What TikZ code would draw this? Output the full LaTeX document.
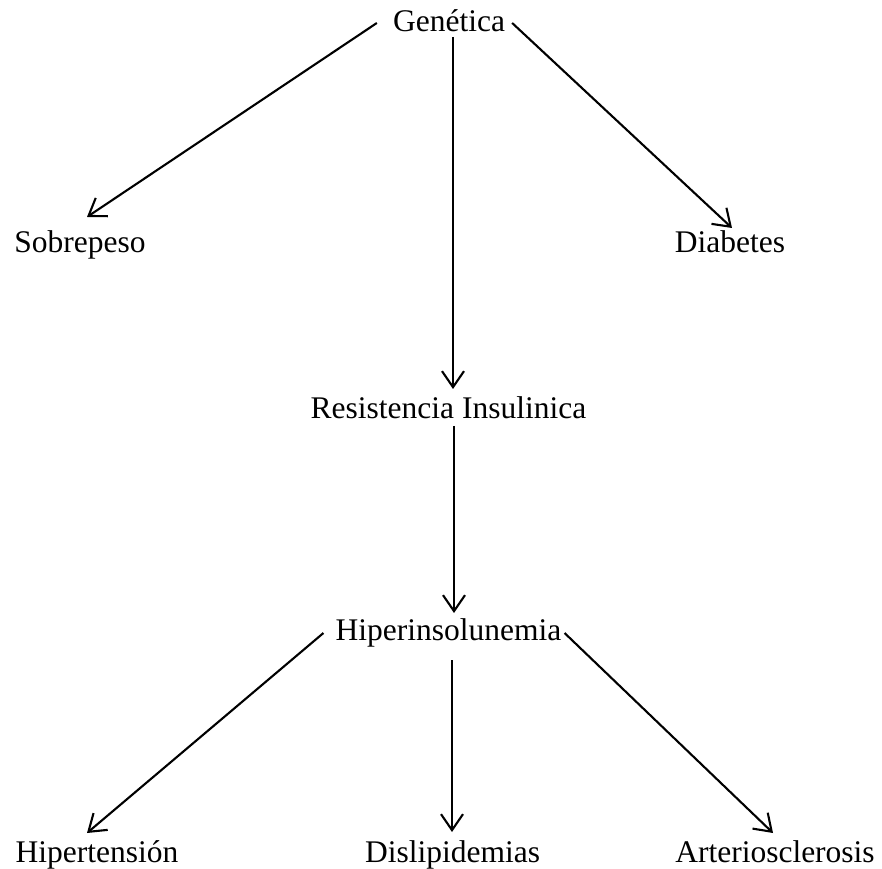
\documentclass[tikz,border=0pt]{standalone}
\usepackage{fontspec}
\setmainfont{Liberation Serif}
\usetikzlibrary{arrows.meta}
\begin{document}
\begin{tikzpicture}[x=1pt,y=1pt,
  lbl/.style={anchor=base,inner sep=0pt,font=\fontsize{31.5}{37}\selectfont},
  arr/.style={line width=2.1pt,-{Straight Barb[length=16pt,width=22pt,line width=2.1pt]}}]
\useasboundingbox (0,0) rectangle (882,868);
\node[lbl] (gen) at (449,836) {Genética};
\node[lbl] (sob) at (80,615) {Sobrepeso};
\node[lbl] (dia) at (730,615) {Diabetes};
\node[lbl] (res) at (448.5,449) {Resistencia Insulinica};
\node[lbl] (hip) at (448.5,228) {Hiperinsolunemia};
\node[lbl] (hta) at (97,6) {Hipertensión};
\node[lbl] (dis) at (452.5,6) {Dislipidemias};
\node[lbl] (art) at (775,6) {Arteriosclerosis};
\draw[arr] ([shift={(-16,9)}]gen.base west) -- ([shift={(7,36)}]sob.base);
\draw[arr] ([shift={(7,9)}]gen.base east) -- ([shift={(2,25)}]dia.base);
\draw[arr] ([shift={(4,-5)}]gen.base) -- ([shift={(4.5,30)}]res.base);
\draw[arr] ([shift={(5.5,-7)}]res.base) -- ([shift={(5.5,27)}]hip.base);
\draw[arr] ([shift={(-12,7)}]hip.base west) -- ([shift={(-10,29)}]hta.base);
\draw[arr] ([shift={(3.5,-20)}]hip.base) -- ([shift={(-0.5,30)}]dis.base);
\draw[arr] ([shift={(3,7)}]hip.base east) -- ([shift={(-2,29)}]art.base);
\end{tikzpicture}
\end{document}
